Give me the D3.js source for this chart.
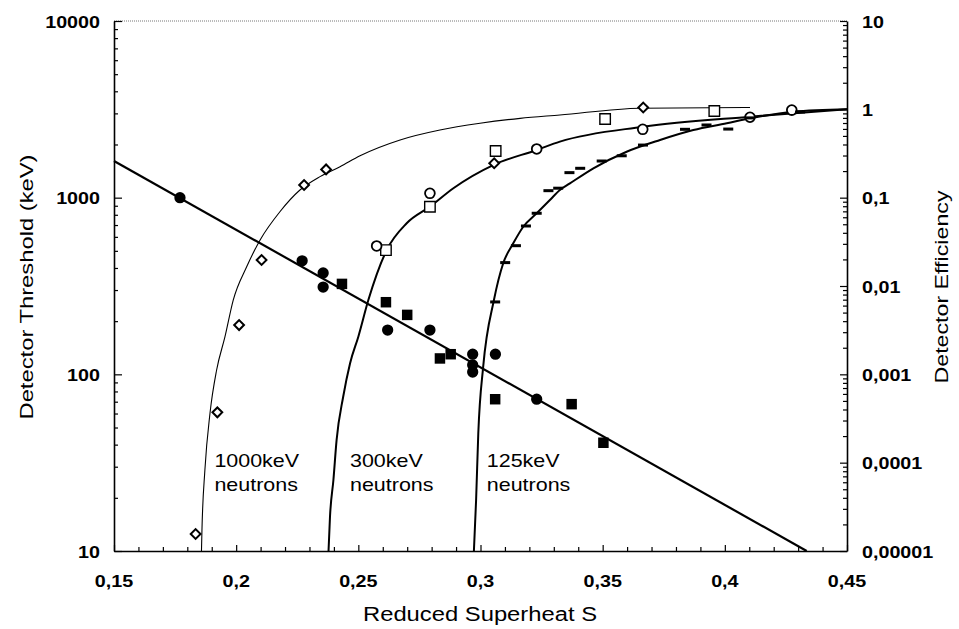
<!DOCTYPE html>
<html><head><meta charset="utf-8">
<script src="https://cdn.jsdelivr.net/npm/d3@7"></script>
<style>
body{margin:0;background:#fff}
svg{display:block}
text{font-family:"Liberation Sans",Arial,Helvetica,sans-serif;fill:#000}
</style>
</head><body>
<script>
// ---------- data ----------
const xTicks = [0.15, 0.2, 0.25, 0.3, 0.35, 0.4, 0.45];
const xTickLabels = ["0,15", "0,2", "0,25", "0,3", "0,35", "0,4", "0,45"];
const yLeftTicks = [10, 100, 1000, 10000];
const yLeftLabels = ["10", "100", "1000", "10000"];
const yRightTicks = [1e-5, 1e-4, 1e-3, 1e-2, 1e-1, 1, 10];
const yRightLabels = ["0,00001", "0,0001", "0,001", "0,01", "0,1", "1", "10"];

// threshold fit line (left axis, keV)
const thresholdLine = [[0.15, 1614], [0.4335, 10]];
// threshold measurements (left axis)
const thrCircles = [[0.177, 1000], [0.227, 439], [0.2356, 375], [0.2356, 312], [0.262, 178],
  [0.2793, 178], [0.2968, 130], [0.2968, 113], [0.2968, 103], [0.3061, 130], [0.323, 72.3]];
const thrSquares = [[0.2433, 325], [0.2613, 256], [0.27, 217], [0.2834, 123], [0.2878, 130],
  [0.306, 72.3], [0.3373, 67.8], [0.3503, 41]];

// efficiency measurements (right axis)
const effDiamonds = [[0.1834, 1.56e-5], [0.1923, 3.71e-4], [0.2012, 3.61e-3], [0.2104, 0.0197],
  [0.2278, 0.139], [0.2368, 0.209], [0.3056, 0.245], [0.3666, 1.05]];
const effOpenSquares = [[0.2613, 0.0255], [0.2793, 0.079], [0.3062, 0.337], [0.351, 0.778], [0.3957, 0.957]];
const effOpenCircles = [[0.2575, 0.0284], [0.2793, 0.112], [0.323, 0.356], [0.3664, 0.594], [0.4103, 0.813], [0.4274, 0.98]];
const effDashes = [[0.306, 0.0066], [0.3101, 0.0184], [0.3145, 0.0286], [0.3186, 0.0478], [0.323, 0.0666],
  [0.3278, 0.12], [0.3318, 0.128], [0.3364, 0.192], [0.3408, 0.215], [0.3496, 0.26], [0.3578, 0.298],
  [0.3665, 0.394], [0.3837, 0.594], [0.3925, 0.665], [0.4014, 0.598], [0.4103, 0.80], [0.4308, 0.933]];

// efficiency curves (right axis)
const curve1000 = [[0.1858, 1e-5], [0.1860, 1.73e-5], [0.1872, 8.26e-5], [0.1893, 3.65e-4], [0.1920, 1.12e-3],
  [0.1954, 2.65e-3], [0.1988, 6.93e-3], [0.2043, 0.0165], [0.2098, 0.0332], [0.2179, 0.0693], [0.2261, 0.122],
  [0.2343, 0.173], [0.2425, 0.224], [0.2507, 0.298], [0.2671, 0.450], [0.2834, 0.583], [0.2998, 0.695],
  [0.3162, 0.791], [0.3325, 0.863], [0.3653, 1.03], [0.4103, 1.05]];
const curve300 = [[0.2378, 1e-5], [0.2384, 2.44e-5], [0.2398, 6.37e-5], [0.2411, 1.80e-4], [0.2438, 5.58e-4],
  [0.2466, 1.33e-3], [0.2500, 2.67e-3], [0.2541, 6.93e-3], [0.2616, 0.0255], [0.2698, 0.0513], [0.2793, 0.0791],
  [0.2889, 0.128], [0.3052, 0.234], [0.3230, 0.347], [0.3325, 0.431], [0.3666, 0.635], [0.4103, 0.826], [0.45, 1.0]];
const curve125 = [[0.2973, 1e-5], [0.2982, 3.78e-5], [0.2991, 2.17e-4], [0.3011, 1.22e-3], [0.3055, 6.93e-3],
  [0.3093, 0.0181], [0.3134, 0.0304], [0.3175, 0.0469], [0.3230, 0.0666], [0.3284, 0.0942], [0.3325, 0.122],
  [0.3366, 0.145], [0.3462, 0.215], [0.3598, 0.331], [0.3735, 0.450], [0.3871, 0.583], [0.4008, 0.695],
  [0.4103, 0.791], [0.4280, 0.940], [0.45, 1.0]];

const annotations = [
  {s: 0.1911, l1: "1000keV", l2: "neutrons"},
  {s: 0.2466, l1: "300keV", l2: "neutrons"},
  {s: 0.3026, l1: "125keV", l2: "neutrons"}
];
// ---------- layout ----------
const W = 959, H = 629;
const L = 114, R = 847, T = 21, B = 551;
const K = 1.16; // horizontal text stretch

const svg = d3.select("body").append("svg").attr("width", W).attr("height", H);
const x = d3.scaleLinear().domain([0.15, 0.45]).range([L, R]);
const yL = d3.scaleLog().domain([10, 10000]).range([B, T]);
const yR = d3.scaleLog().domain([1e-5, 10]).range([B, T]);

// frame: top dotted
svg.append("line").attr("x1", L).attr("x2", R).attr("y1", T).attr("y2", T)
  .attr("stroke", "#777").attr("stroke-width", 1).attr("stroke-dasharray", "1,1");

// axes
const minorX = d3.range(0, 31).map(i => 0.15 + i * 0.01);
const gx = svg.append("g").attr("transform", `translate(0,${B})`)
  .call(d3.axisBottom(x).tickValues(minorX).tickSizeInner(-4).tickSizeOuter(0).tickFormat(""));
gx.selectAll(".tick line").filter(d => xTicks.some(t => Math.abs(t - d) < 1e-9)).attr("y2", -6);

const gl = svg.append("g").attr("transform", `translate(${L},0)`)
  .call(d3.axisLeft(yL).tickValues(yL.ticks()).tickSizeInner(-4).tickSizeOuter(0).tickFormat(""));
gl.selectAll(".tick line").filter(d => yLeftTicks.includes(d)).attr("x2", 8);

const gr = svg.append("g").attr("transform", `translate(${R},0)`)
  .call(d3.axisRight(yR).tickValues(yR.ticks()).tickSizeInner(-4).tickSizeOuter(0).tickFormat(""));
gr.selectAll(".tick line").filter(d => yRightTicks.some(t => Math.abs(t - d) / t < 1e-6)).attr("x2", -7);

svg.selectAll(".domain").attr("stroke", "#000").attr("stroke-width", 1.6);
svg.selectAll(".tick line").attr("stroke", "#000").attr("stroke-width", 1.2);

// tick labels
const tl = svg.append("g").attr("font-size", 17).attr("font-weight", "bold");
xTicks.forEach((t, i) => tl.append("text").attr("transform", `translate(${x(t)},587) scale(${K},1)`)
  .attr("text-anchor", "middle").text(xTickLabels[i]));
yLeftTicks.forEach((t, i) => tl.append("text").attr("transform", `translate(100,${yL(t) + 6.5}) scale(${K},1)`)
  .attr("text-anchor", "end").text(yLeftLabels[i]));
yRightTicks.forEach((t, i) => tl.append("text").attr("transform", `translate(862,${yR(t) + 6.5}) scale(${K},1)`)
  .attr("text-anchor", "start").text(yRightLabels[i]));

// axis titles
svg.append("text").attr("x", 480).attr("y", 621).attr("text-anchor", "middle").attr("font-size", 20)
  .attr("textLength", 234).attr("lengthAdjust", "spacingAndGlyphs").text("Reduced  Superheat  S");
svg.append("text").attr("transform", "translate(33,287) rotate(-90)").attr("text-anchor", "middle")
  .attr("font-size", 19).attr("textLength", 265).attr("lengthAdjust", "spacingAndGlyphs")
  .text("Detector  Threshold  (keV)");
svg.append("text").attr("transform", "translate(948,287) rotate(-90)").attr("text-anchor", "middle")
  .attr("font-size", 19).attr("textLength", 193).attr("lengthAdjust", "spacingAndGlyphs")
  .text("Detector  Efficiency");

// curves
const lineR = d3.line().x(d => x(d[0])).y(d => yR(d[1])).curve(d3.curveMonotoneX);
const lineL = d3.line().x(d => x(d[0])).y(d => yL(d[1]));
svg.append("path").attr("d", lineR(curve1000)).attr("fill", "none").attr("stroke", "#000").attr("stroke-width", 1.1);
svg.append("path").attr("d", lineR(curve300)).attr("fill", "none").attr("stroke", "#000").attr("stroke-width", 2);
svg.append("path").attr("d", lineR(curve125)).attr("fill", "none").attr("stroke", "#000").attr("stroke-width", 2);
svg.append("path").attr("d", lineL(thresholdLine)).attr("fill", "none").attr("stroke", "#000").attr("stroke-width", 2.2);

// markers
const sym = (type, size) => d3.symbol().type(type).size(size)();
svg.append("g").selectAll("path").data(thrCircles).join("path")
  .attr("transform", d => `translate(${x(d[0])},${yL(d[1])})`).attr("d", sym(d3.symbolCircle, 100)).attr("fill", "#000");
svg.append("g").selectAll("path").data(thrSquares).join("path")
  .attr("transform", d => `translate(${x(d[0])},${yL(d[1])})`).attr("d", sym(d3.symbolSquare, 110)).attr("fill", "#000");
svg.append("g").selectAll("path").data(effDiamonds).join("path")
  .attr("transform", d => `translate(${x(d[0])},${yR(d[1])}) rotate(45)`).attr("d", sym(d3.symbolSquare, 48))
  .attr("fill", "#fff").attr("stroke", "#000").attr("stroke-width", 2);
svg.append("g").selectAll("path").data(effOpenSquares).join("path")
  .attr("transform", d => `translate(${x(d[0])},${yR(d[1])})`).attr("d", sym(d3.symbolSquare, 110))
  .attr("fill", "#fff").attr("stroke", "#000").attr("stroke-width", 1.4);
svg.append("g").selectAll("path").data(effOpenCircles).join("path")
  .attr("transform", d => `translate(${x(d[0])},${yR(d[1])})`).attr("d", sym(d3.symbolCircle, 75))
  .attr("fill", "#fff").attr("stroke", "#000").attr("stroke-width", 1.8);
svg.append("g").selectAll("rect").data(effDashes).join("rect")
  .attr("x", d => x(d[0]) - 5).attr("y", d => yR(d[1]) - 1.5).attr("width", 10).attr("height", 3).attr("fill", "#000");

// annotations
const ag = svg.append("g").attr("font-size", 18.5);
annotations.forEach(a => {
  ag.append("text").attr("transform", `translate(${x(a.s)},466.5) scale(${K},1)`).text(a.l1);
  ag.append("text").attr("transform", `translate(${x(a.s)},491) scale(${K},1)`).text(a.l2);
});
</script>
</body></html>
